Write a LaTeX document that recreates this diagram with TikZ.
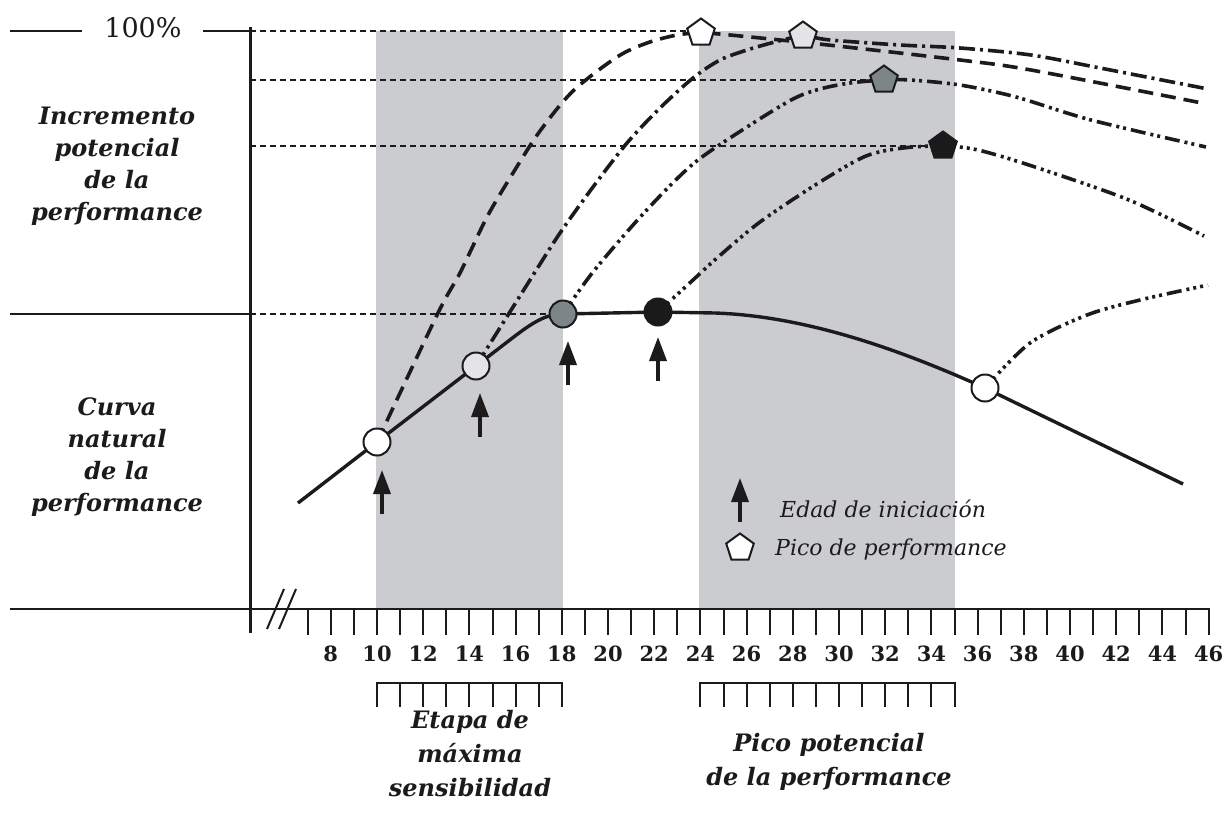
\documentclass[tikz,border=0pt]{standalone}
\usepackage{fontspec}
\setmainfont{DejaVu Serif}
\usetikzlibrary{shapes.geometric,arrows.meta}
\definecolor{bandgray}{HTML}{CBCCD0}
\definecolor{lightc}{HTML}{E4E4E6}
\definecolor{midc}{HTML}{7C8588}
\definecolor{darkc}{HTML}{1A1A1A}
\definecolor{ink}{HTML}{1C1A1A}
\begin{document}
\begin{tikzpicture}[x=1pt,y=-1pt,
  ref/.style={line width=1.6pt, dash pattern=on 6pt off 4pt, draw=ink},
  axisline/.style={line width=2.6pt, draw=ink},
  tick/.style={line width=2pt, draw=ink},
  natural/.style={line width=3.4pt, draw=ink, line join=round},
  curveA/.style={line width=3.6pt, draw=ink, dash pattern=on 15pt off 8pt},
  curveB/.style={line width=3.6pt, draw=ink, dash pattern=on 16pt off 5pt on 3pt off 5pt},
  curveC/.style={line width=3.6pt, draw=ink, dash pattern=on 15pt off 5pt on 3pt off 4pt on 3pt off 5pt},
  curveD/.style={line width=3.6pt, draw=ink, dash pattern=on 15pt off 5pt on 3pt off 4pt on 3pt off 4pt on 3pt off 5pt},
  circ/.style={circle, draw=ink, line width=2pt, minimum size=27pt, inner sep=0pt},
  pent/.style={regular polygon, regular polygon sides=5, draw=ink, line width=2pt, minimum size=29pt, inner sep=0pt},
  upar/.style={-{Triangle[length=24pt,width=17pt]}, line width=3.6pt, draw=ink},
  num/.style={font=\fontsize{21}{21}\selectfont\bfseries, anchor=base, inner sep=0pt, text=ink},
  blab/.style={font=\fontsize{24}{32}\selectfont\bfseries\itshape, align=center, anchor=north, inner sep=0pt, text=ink},
  bblab/.style={font=\fontsize{24}{34}\selectfont\bfseries\itshape, align=center, anchor=north, inner sep=0pt, text=ink},
  leg/.style={font=\fontsize{22}{22}\selectfont\itshape, anchor=base west, inner sep=0pt, text=ink},
]
\useasboundingbox (0,0) rectangle (1232,817);
\fill[white] (0,0) rectangle (1232,817);
% shaded stages
\fill[bandgray] (376,31) rectangle (563,609);
\fill[bandgray] (699,31) rectangle (955,609);

% key points
\coordinate (yax) at (250,0);
\coordinate (top) at (250,31);
\coordinate (c1) at (377,442);
\coordinate (c2) at (476,366);
\coordinate (c3) at (563,314);
\coordinate (c4) at (658,312);
\coordinate (c5) at (985,388);
\coordinate (q1) at (701,33);
\coordinate (q2) at (803,36);
\coordinate (q3) at (884,80);
\coordinate (q4) at (943,146);
\coordinate (s0) at (298,503);
\coordinate (s9) at (1183,484);

% reference dashed lines
\draw[ref] (top) -- (top -| q1);
\draw[ref] (yax |- q3) -- (q3);
\draw[ref] (yax |- q4) -- (q4);
\draw[ref] (yax |- c3) -- (c3);

% axes
\draw[axisline] (10,31) -- (82,31);
\draw[axisline] (203,31) -- (top);
\draw[axisline] (10,314) -- (250,314);
\draw[axisline] (10,609) -- (1210,609);
\draw[line width=3pt, draw=ink] (250,27) -- (250,633);
\draw[line width=2pt, draw=ink] (267,629) -- (284,589);
\draw[line width=2pt, draw=ink] (279,629) -- (296,589);
\foreach \a in {7,...,46} \draw[tick] ({377+(\a-10)*23.1},609) -- ++(0,26);
\foreach \a in {8,10,...,46} \node[num] (n\a) at ({377+(\a-10)*23.1},661) {\a};

% brackets
\draw[tick] (377,707) -- (377,683) -- (562,683) -- (562,707);
\foreach \a in {11,...,17} \draw[tick] ({377+(\a-10)*23.1},683) -- ++(0,24);
\draw[tick] (700,707) -- (700,683) -- (955,683) -- (955,707);
\foreach \a in {25,...,34} \draw[tick] ({377+(\a-10)*23.1},683) -- ++(0,24);

% natural curve
\draw[natural] (s0) -- (c1) -- (c2) -- (515,336) .. controls (536,320) and (548,314) .. (c3) -- (c4) -- (715,313) .. controls (800,316) and (890,345) .. (c5) -- (s9);

% potential curves
\draw[curveA] plot[smooth, tension=0.5] coordinates {(c1) (438,313) (460,273) (487,217) (513,173) (540,131) (573,91) (617,57) (647,43) (677,35) (q1) (730,35) (828,45) (960,60) (1031,70) (1202,103)};
\draw[curveB] plot[smooth, tension=0.5] coordinates {(c2) (530,280) (560,233) (593,187) (627,143) (660,108) (693,78) (720,60) (747,50) (775,42) (q2) (830,40) (900,45) (960,48) (1031,55) (1100,68) (1208,89)};
\draw[curveC] plot[smooth, tension=0.5] coordinates {(c3) (593,272) (643,214) (693,164) (747,127) (793,99) (820,89) (850,83) (q3) (910,80) (960,85) (1016,97) (1091,120) (1206,147)};
\draw[curveD] plot[smooth, tension=0.5] coordinates {(c4) (693,280) (717,258) (760,222) (820,182) (866,156) (903,148) (q4) (978,150) (1035,167) (1129,200) (1204,236)};
\draw[curveD] plot[smooth, tension=0.5] coordinates {(c5) (1030,343) (1087,315) (1140,300) (1208,285)};

% markers
\node[circ, fill=white] (m1) at (c1) {};
\node[circ, fill=lightc] (m2) at (c2) {};
\node[circ, fill=midc] (m3) at (c3) {};
\node[circ, fill=darkc] (m4) at (c4) {};
\node[circ, fill=white] (m5) at (c5) {};
\node[pent, fill=white] (p1) at (q1) {};
\node[pent, fill=lightc] (p2) at (q2) {};
\node[pent, fill=midc] (p3) at (q3) {};
\node[pent, fill=darkc] (p4) at (q4) {};

% start-age arrows
\draw[upar] (382,514) -- (382,470);
\draw[upar] (480,437) -- (480,393);
\draw[upar] (568,385) -- (568,341);
\draw[upar] (658,381) -- (658,337);

% legend
\draw[upar] (740,522) -- (740,478);
\node[leg] (le1) at (780,517) {Edad de iniciación};
\node[pent, fill=white] (lp) at (740,548) {};
\node[leg] (le2) at (775,555) {Pico de performance};

% texts
\node[font=\fontsize{27}{27}\selectfont, anchor=base, inner sep=0pt, text=ink] (pct) at (143,37) {100\%};
\node[blab] (inc) at (117,107) {Incremento\\potencial\\de la\\performance};
\node[blab] (cur) at (117,397) {Curva\\natural\\de la\\performance};
\node[bblab] (eta) at (470,710) {Etapa de\\máxima\\sensibilidad};
\node[bblab] (pic) at (829,733) {Pico potencial\\de la performance};
\end{tikzpicture}
\end{document}
